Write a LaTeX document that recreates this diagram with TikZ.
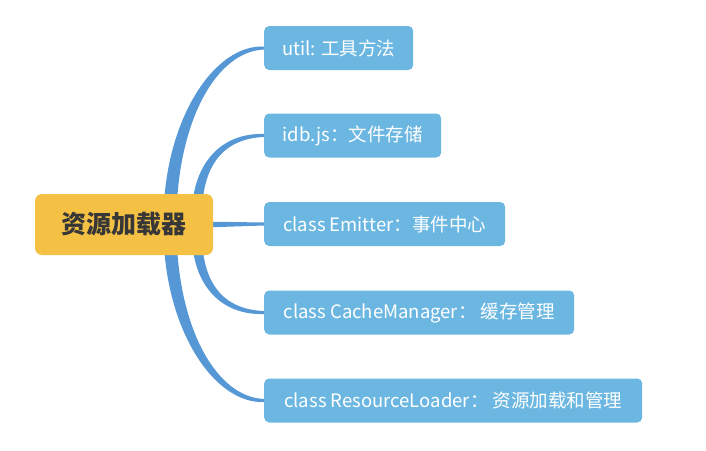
\documentclass[tikz,border=0pt]{standalone}
\usepackage{fontspec}
\setmainfont{Noto Sans CJK SC}
\usetikzlibrary{calc,backgrounds}
\definecolor{boxblue}{RGB}{108,183,226}
\definecolor{linkblue}{RGB}{86,152,214}
\definecolor{rootyellow}{RGB}{245,193,69}
\definecolor{roottext}{RGB}{55,55,55}
\begin{document}
\begin{tikzpicture}[x=1pt,y=-1pt,
  leaf/.style={fill=boxblue, rounded corners=5pt, text=white,
    font=\fontsize{18.5}{20}\selectfont, minimum height=44pt, anchor=west, inner sep=0pt},
  rootbox/.style={fill=rootyellow, rounded corners=7pt, text=roottext,
    font=\fontsize{25}{28}\selectfont\bfseries, minimum width=178pt, minimum height=61pt, inner sep=0pt},
  link/.style={fill=linkblue}]
\useasboundingbox (0,0) rectangle (706,450);
\node[rootbox] (r) at (124,224.5) {资源加载器};
\node[leaf, minimum width=149pt] (u) at (264,48) {util: 工具方法};
\node[leaf, minimum width=177pt] (i) at (264,135.5) {idb.js：文件存储};
\node[leaf, minimum width=241pt] (e) at (264,224) {class Emitter：事件中心};
\node[leaf, minimum width=310pt] (c) at (264,312.5) {class CacheManager： 缓存管理};
\node[leaf, minimum width=378pt] (l) at (264,400.5) {class ResourceLoader： 资源加载和管理};
\coordinate (s1) at ($(r.center)+(46,-9.5)$);
\coordinate (s2) at ($(r.center)+(73,-9.5)$);
\coordinate (s4) at ($(r.center)+(73,9.5)$);
\coordinate (s5) at ($(r.center)+(46,9.5)$);
\begin{scope}[on background layer]
% util
\fill[link] ($(s1)+(-6.5,0)$) .. controls ($(s1)+(-4.5,-96)$) and ($(u.west)+(-50,-3.5)$) .. ($(u.west)+(0,-1.5)$)
  -- ($(u.west)+(0,1.5)$) .. controls ($(u.west)+(-48,3.5)$) and ($(s1)+(8.5,-94)$) .. ($(s1)+(6.5,0)$) -- cycle;
% idb
\fill[link] ($(s2)+(-5,0)$) .. controls ($(s2)+(-5,-51)$) and ($(i.west)+(-43,-3)$) .. ($(i.west)+(0,-1.5)$)
  -- ($(i.west)+(0,1.5)$) .. controls ($(i.west)+(-41,3)$) and ($(s2)+(5,-49)$) .. ($(s2)+(5,0)$) -- cycle;
% emitter
\fill[link] ($(r.east)+(-3,-2.8)$) -- ($(e.west)+(0,-1.5)$) -- ($(e.west)+(0,1.5)$) -- ($(r.east)+(-3,2.8)$) -- cycle;
% cache
\fill[link] ($(s4)+(-5,0)$) .. controls ($(s4)+(-5,51)$) and ($(c.west)+(-43,3)$) .. ($(c.west)+(0,1.5)$)
  -- ($(c.west)+(0,-1.5)$) .. controls ($(c.west)+(-41,-3)$) and ($(s4)+(5,49)$) .. ($(s4)+(5,0)$) -- cycle;
% resource loader
\fill[link] ($(s5)+(-6.5,0)$) .. controls ($(s5)+(-4.5,96)$) and ($(l.west)+(-50,3.5)$) .. ($(l.west)+(0,1.5)$)
  -- ($(l.west)+(0,-1.5)$) .. controls ($(l.west)+(-48,-3.5)$) and ($(s5)+(8.5,94)$) .. ($(s5)+(6.5,0)$) -- cycle;
\end{scope}
\end{tikzpicture}
\end{document}
